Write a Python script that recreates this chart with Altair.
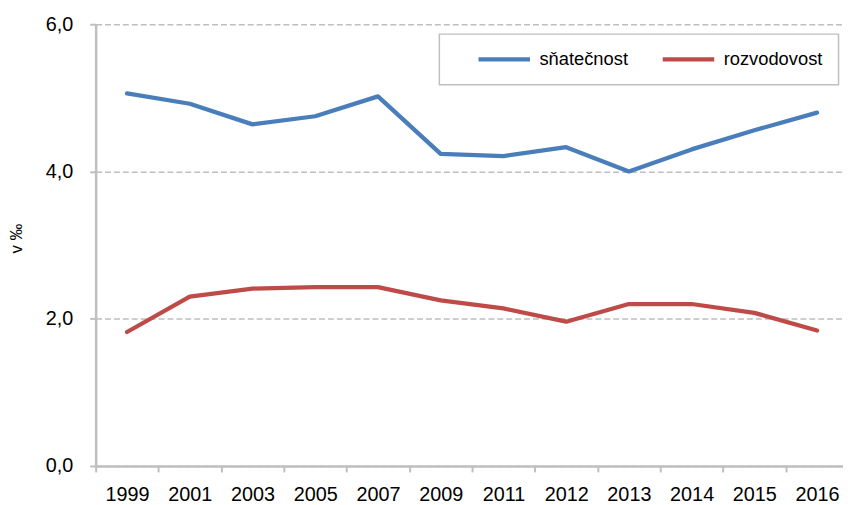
import altair as alt
import pandas as pd

years = ["1999", "2001", "2003", "2005", "2007", "2009", "2011", "2012", "2013", "2014", "2015", "2016"]
snatecnost = [5.06, 4.92, 4.64, 4.75, 5.02, 4.24, 4.21, 4.33, 4.00, 4.30, 4.56, 4.80]
rozvodovost = [1.82, 2.30, 2.41, 2.43, 2.43, 2.25, 2.14, 1.96, 2.20, 2.20, 2.08, 1.84]
series = ["sňatečnost", "rozvodovost"]
colors = ["#4A7EBB", "#BE4B48"]
y_ticks = [0, 2, 4, 6]

df = pd.DataFrame({
    "rok": years * 2,
    "hodnota": snatecnost + rozvodovost,
    "ukazatel": [series[0]] * len(years) + [series[1]] * len(years),
})

FONT = "Liberation Sans"
GRAY = "#BFBFBF"

chart = alt.Chart(df).mark_line(
    strokeWidth=4.3, strokeCap="round", strokeJoin="round"
).encode(
    x=alt.X(
        "rok:O", sort=years, bandPosition=0.5,
        scale=alt.Scale(type="band", paddingInner=0, paddingOuter=0),
        axis=alt.Axis(
            title=None, tickBand="extent", grid=False, labelAngle=0,
            domainColor=GRAY, domainWidth=2.5, tickColor=GRAY, tickWidth=2, tickSize=6,
            labelFont=FONT, labelFontSize=20, labelColor="#000000", labelPadding=13,
        ),
    ),
    y=alt.Y(
        "hodnota:Q",
        scale=alt.Scale(domain=[0, 6], nice=False),
        axis=alt.Axis(
            values=y_ticks, title="v ‰",
            labelExpr="replace(format(datum.value, '.1f'), '.', ',')",
            grid=True, gridColor=GRAY, gridDash=[6, 3], gridWidth=1.5,
            domainColor=GRAY, domainWidth=2.5, tickColor=GRAY, tickWidth=2, tickSize=6,
            labelFont=FONT, labelFontSize=20, labelColor="#000000", labelPadding=17,
            titleFont=FONT, titleFontSize=17, titleFontWeight="normal", titleColor="#000000",
            titleAngle=-90, titleAlign="center", titleBaseline="middle",
            titleX=-80, titleY=216,
        ),
    ),
    color=alt.Color(
        "ukazatel:N", sort=series,
        scale=alt.Scale(domain=series, range=colors),
        legend=alt.Legend(
            title=None, orient="none", legendX=347, legendY=10, direction="horizontal",
            strokeColor=GRAY, padding=16, symbolType="stroke", symbolSize=2704,
            symbolStrokeWidth=4.3, labelFont=FONT, labelFontSize=18.5, labelColor="#000000",
            labelOffset=7, columnPadding=11, symbolOffset=21, clipHeight=19,
        ),
    ),
).properties(
    width=760, height=446,
    autosize=alt.AutoSizeParams(type="none"),
    padding={"left": 88.5, "top": 14, "right": -5.5, "bottom": 37},
).configure_view(stroke=None).configure_legend(strokeWidth=1.5)

chart.save("out.html", embed_options={"renderer": "svg", "actions": False})
